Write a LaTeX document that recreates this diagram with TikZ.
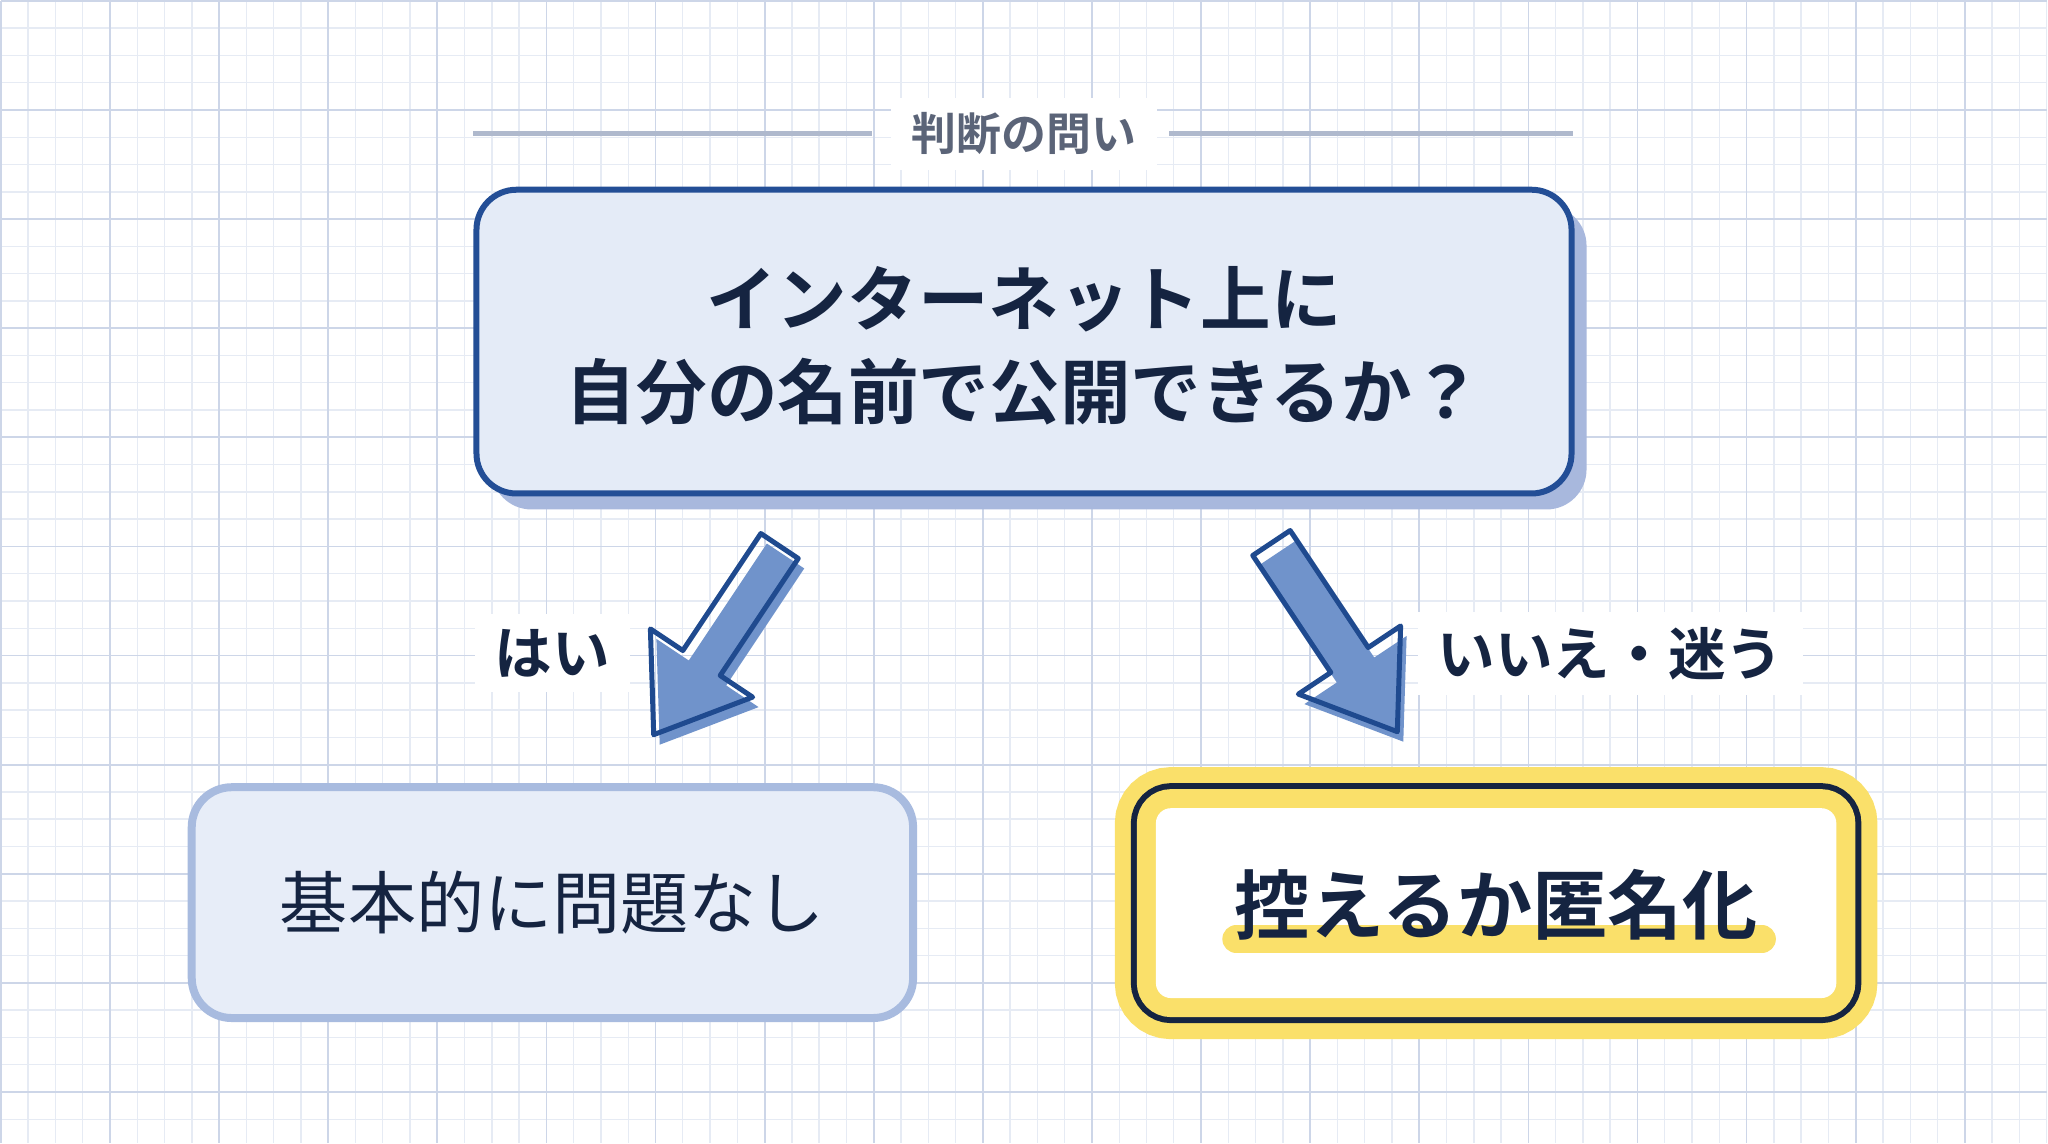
\documentclass[tikz,border=0pt]{standalone}
\usepackage{fontspec}
\setmainfont{Noto Sans CJK JP}[BoldFont={Noto Sans CJK JP Bold}]
\usetikzlibrary{arrows.meta,positioning,shapes.arrows,shadows}
\definecolor{inknavy}{HTML}{152441}
\definecolor{qborder}{HTML}{234E96}
\definecolor{qfill}{HTML}{E4EBF7}
\definecolor{qshadow}{HTML}{A8B8DD}
\definecolor{arrowline}{HTML}{1F4A8F}
\definecolor{arrowfill}{HTML}{7093CB}
\definecolor{titlegray}{HTML}{5B6478}
\definecolor{rulegray}{HTML}{AFB9CD}
\definecolor{yesborder}{HTML}{A8BBDF}
\definecolor{yesfill}{HTML}{E7EDF8}
\definecolor{markyellow}{HTML}{FAE06A}
\definecolor{gridminor}{HTML}{E6EBF4}
\definecolor{gridmajor}{HTML}{CDD6E8}

\begin{document}
\begin{tikzpicture}[
		font=\bfseries,
		question/.style={draw=qborder, fill=qfill, rounded corners=0.4cm,
				minimum width=10.96cm, minimum height=3.04cm, line width=0.06cm,
				align=center, text=inknavy, font=\bfseries\fontsize{20.1}{26.4}\selectfont,
				drop shadow={shadow xshift=0.15cm, shadow yshift=-0.16cm, fill=qshadow, opacity=1}},
		heading/.style={fill=white, text=titlegray, inner xsep=0.21cm, inner ysep=0.15cm,
				font=\bfseries\fontsize{12.8}{14}\selectfont},
		branch/.style={fill=white, text=inknavy, inner xsep=0.2cm, inner ysep=0.15cm,
				font=\bfseries\fontsize{16.4}{18}\selectfont},
		bigarrow/.style={single arrow, minimum height=2.27cm, minimum width=1.18cm,
				single arrow head extend=0.39cm, single arrow tip angle=71,
				inner xsep=0pt, inner ysep=0.2cm, line width=0.05cm, line join=round,
				anchor=tip},
		yesbox/.style={draw=yesborder, fill=yesfill, rounded corners=0.4cm,
				minimum width=7.22cm, minimum height=2.31cm, line width=0.08cm,
				text=inknavy, font=\mdseries\fontsize{19.4}{22}\selectfont},
		avoidframe/.style={fill=white, rounded corners=0.15cm, inner sep=0pt,
				minimum width=6.81cm, minimum height=1.90cm,
				preaction={draw=markyellow, line width=0.82cm},
				preaction={draw=inknavy, line width=0.50cm},
				preaction={draw=markyellow, line width=0.38cm}},
		avoidtext/.style={text=inknavy, font=\bfseries\fontsize{21.4}{24}\selectfont},
		marker/.style={draw=markyellow, line width=0.28cm, line cap=round},
	]

	% squared paper
	\fill[white] (0,0) rectangle (20.48,-11.43);
	\draw[gridminor, line width=0.4pt] (0,-11.43) grid[step=0.273] (20.48,0);
	\draw[gridmajor, line width=0.5pt] (0,-11.43) grid[step=1.092] (20.48,0);
	\useasboundingbox (0,0) rectangle (20.48,-11.43);

	\node[heading] (title) at (10.24,-1.33) {判断の問い};
	\coordinate (ruleL) at (4.73,-1.33);
	\coordinate (ruleR) at (15.73,-1.33);
	\draw[rulegray, line width=0.05cm] (ruleL) -- ([xshift=-0.18cm]title.west);
	\draw[rulegray, line width=0.05cm] ([xshift=0.11cm]title.east) -- (ruleR);

	\node[question] (ask) at (10.24,-3.41) {};
	\node[text=inknavy, align=center, font=\bfseries\fontsize{20.1}{26.4}\selectfont]
	(asktext) at ([yshift=-0.04cm]ask.center)
	{インターネット上に\\自分の名前で公開できるか？};

	% block arrows, fill offset from the outline
	\node[bigarrow, fill=arrowfill, rotate=236.3] at (6.57,-7.48) {};
	\node[bigarrow, draw=arrowline, rotate=236.3] (yesarrow) at (6.51,-7.38) {};
	\node[bigarrow, fill=arrowfill, rotate=303.7] at (14.06,-7.45) {};
	\node[bigarrow, draw=arrowline, rotate=303.7] (noarrow) at (14.00,-7.35) {};

	\node[branch] (yeslabel) at (5.52,-6.53) {はい};
	\node[branch] (nolabel) at (16.11,-6.53) {いいえ・迷う};

	\node[yesbox] (fine) at (5.52,-9.025) {基本的に問題なし};

	\node[avoidframe] (frame) at (14.965,-9.03) {};
	\draw[marker] ([shift={(-2.6,-0.36)}]frame.center) -- ([shift={(2.66,-0.36)}]frame.center);
	\node[avoidtext] (avoid) at ([yshift=-0.02cm]frame.center) {控えるか匿名化};

\end{tikzpicture}
\end{document}
